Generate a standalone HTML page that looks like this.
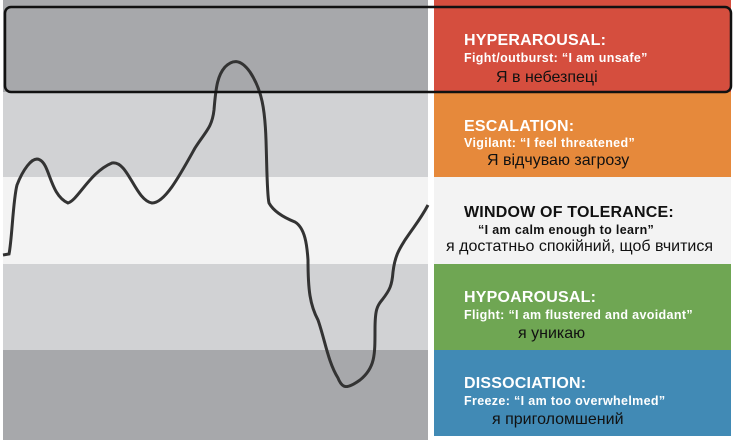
<!DOCTYPE html>
<html><head><meta charset="utf-8"><style>
body{margin:0;width:734px;height:440px;background:#fff;position:relative;overflow:hidden;font-family:"Liberation Sans","DejaVu Sans",sans-serif}
.b{position:absolute}
.t{position:absolute;left:464px;color:#fff;font-weight:bold;white-space:nowrap}
.h{font-size:16px;letter-spacing:0.2px}
.s{font-size:12.5px;letter-spacing:0.35px}
.u{position:absolute;color:#111;font-size:16px;white-space:nowrap;font-family:"Liberation Sans","DejaVu Sans",sans-serif}
</style></head><body>
<div class="b" style="left:3px;top:0;width:425px;height:92px;background:#a7a8ab"></div>
<div class="b" style="left:3px;top:92px;width:425px;height:85px;background:#d1d2d4"></div>
<div class="b" style="left:3px;top:177px;width:425px;height:87px;background:#f3f3f3"></div>
<div class="b" style="left:3px;top:264px;width:425px;height:86px;background:#d1d2d4"></div>
<div class="b" style="left:3px;top:350px;width:425px;height:90px;background:#a7a8ab"></div>
<div class="b" style="left:434px;top:0;width:297px;height:92px;background:#d54e3e"></div>
<div class="b" style="left:434px;top:92px;width:297px;height:85px;background:#e6893b"></div>
<div class="b" style="left:434px;top:177px;width:297px;height:87px;background:#f3f3f3"></div>
<div class="b" style="left:434px;top:264px;width:297px;height:86px;background:#6fa653"></div>
<div class="b" style="left:434px;top:350px;width:297px;height:86px;background:#418ab5"></div>
<svg class="b" style="left:0;top:0" width="734" height="440">
<path d="M3,255 L9,254 C12,240 13,200 17,185 C22,172 32,155 40,160 C50,165 50,195 68,203 C78,200 90,172 112,163 C128,160 135,200 152,203 C165,203 180,175 195,148 C205,132 212,128 214,110 C216,85 218,75 225,67 C232,60 240,58 250,72 C262,90 265,110 266,140 C267,170 267,195 269,203 C274,212 285,218 295,222 C305,228 307,245 308,260 C308,290 310,305 318,320 C325,340 328,362 338,378 C342,388 346,390 360,380 C375,368 375,355 375,330 C375,310 377,306 382,300 C390,290 392,285 393,272 C395,255 400,248 405,240 C415,225 420,220 428,205" fill="none" stroke="#333" stroke-width="3"/>
<rect x="5" y="7" width="726" height="85" rx="6" fill="none" stroke="#111" stroke-width="2.5"/>
</svg>
<div class="t h" style="top:32px">HYPERAROUSAL:</div>
<div class="t s" style="top:51px">Fight/outburst: “I am unsafe”</div>
<div class="u" style="left:496px;top:69px">Я в небезпеці</div>
<div class="t h" style="top:118px">ESCALATION:</div>
<div class="t s" style="top:136px">Vigilant: “I feel threatened”</div>
<div class="u" style="left:487px;top:152px">Я відчуваю загрозу</div>
<div class="t h" style="top:204px;color:#111">WINDOW OF TOLERANCE:</div>
<div class="t s" style="top:223px;color:#111;left:478px">“I am calm enough to learn”</div>
<div class="u" style="left:446px;top:238px">я достатньо спокійний, щоб вчитися</div>
<div class="t h" style="top:289px">HYPOAROUSAL:</div>
<div class="t s" style="top:308px">Flight: “I am flustered and avoidant”</div>
<div class="u" style="left:518px;top:325px">я уникаю</div>
<div class="t h" style="top:375px">DISSOCIATION:</div>
<div class="t s" style="top:394px">Freeze: “I am too overwhelmed”</div>
<div class="u" style="left:492px;top:411px">я приголомшений</div>
</body></html>
